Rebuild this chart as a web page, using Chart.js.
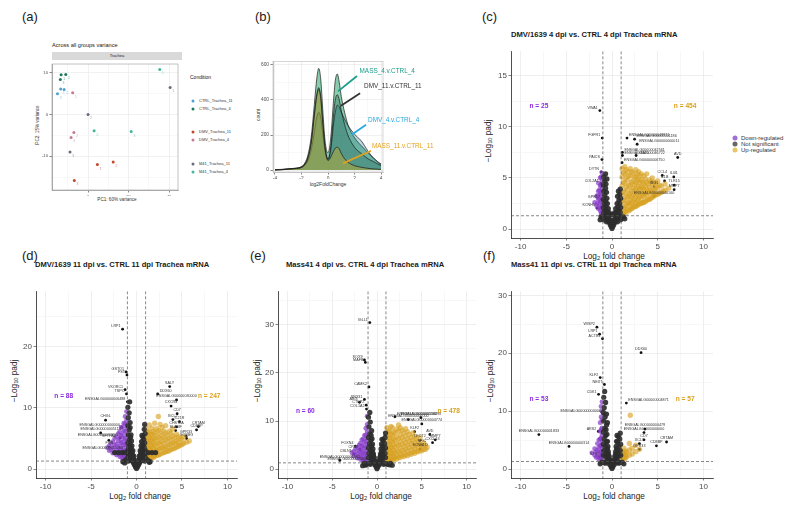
<!DOCTYPE html>
<html><head><meta charset="utf-8">
<script src="https://cdn.jsdelivr.net/npm/chart.js@4.4.1/dist/chart.umd.min.js"></script>
<style>
html,body{margin:0;padding:0;background:#fff;}
body{width:794px;height:507px;position:relative;overflow:hidden;font-family:"Liberation Sans",Arial,sans-serif;color:#1a1a1a;}
canvas{position:absolute;}
.t{position:absolute;white-space:nowrap;line-height:1;}
.c{transform:translate(-50%,-50%);}
.r{transform:translate(-50%,-50%) rotate(-90deg);}
.m{transform:translateY(-50%);}
.pl{font-size:13px;transform:translateY(-50%);}
.ti{font-size:7.6px;font-weight:bold;transform:translateY(-50%);}
.ax{font-size:8.2px;color:#222;}
.dot{position:absolute;border-radius:50%;transform:translate(-50%,-50%);}
sub{font-size:70%;vertical-align:-1px;line-height:0;}
</style></head><body>

<div class="t pl" style="left:22px;top:16px">(a)</div>
<div class="t pl" style="left:255px;top:16px">(b)</div>
<div class="t pl" style="left:482px;top:16px">(c)</div>
<div class="t pl" style="left:22px;top:255px">(d)</div>
<div class="t pl" style="left:250px;top:255px">(e)</div>
<div class="t pl" style="left:483px;top:255px">(f)</div>

<!-- (a) texts -->
<div class="t m" style="left:52px;top:46px;font-size:5.6px">Across all groups variance</div>
<div class="t" style="left:52px;top:52px;width:130px;height:8px;background:#d9d9d9;font-size:4px;text-align:center;line-height:8px">Trachea</div>
<div class="t c" style="left:117px;top:199.5px;font-size:4.6px;color:#333">PC1: 60% variance</div>
<div class="t r" style="left:38px;top:125px;font-size:4.6px;color:#333">PC2: 15% variance</div>
<div class="t m" style="left:190px;top:77px;font-size:5px">Condition</div>
<div id="pcaLegend"></div>

<!-- (b) texts -->
<div class="t c" style="left:328px;top:184px;font-size:5px;color:#333">log2FoldChange</div>
<div class="t r" style="left:258px;top:114.5px;font-size:5px;color:#333">count</div>

<!-- volcano titles -->
<div class="t ti" style="left:511px;top:35px">DMV/1639 4 dpi vs. CTRL 4 dpi Trachea mRNA</div>
<div class="t ti" style="left:35px;top:265px">DMV/1639 11 dpi vs. CTRL 11 dpi Trachea mRNA</div>
<div class="t ti" style="left:286px;top:265px">Mass41 4 dpi vs. CTRL 4 dpi Trachea mRNA</div>
<div class="t ti" style="left:511px;top:265px">Mass41 11 dpi vs. CTRL 11 dpi Trachea mRNA</div>

<div class="t c ax" style="left:614px;top:257px">Log<sub>2</sub> fold change</div>
<div class="t c ax" style="left:140px;top:497px">Log<sub>2</sub> fold change</div>
<div class="t c ax" style="left:381px;top:497px">Log<sub>2</sub> fold change</div>
<div class="t c ax" style="left:614px;top:497px">Log<sub>2</sub> fold change</div>
<div class="t r ax" style="left:489px;top:141px">&minus;Log<sub>10</sub> padj</div>
<div class="t r ax" style="left:15px;top:381px">&minus;Log<sub>10</sub> padj</div>
<div class="t r ax" style="left:258px;top:381px">&minus;Log<sub>10</sub> padj</div>
<div class="t r ax" style="left:491px;top:381px">&minus;Log<sub>10</sub> padj</div>

<!-- volcano legend -->
<div class="dot" style="left:735px;top:137.7px;width:5px;height:5px;background:#a070d6"></div>
<div class="dot" style="left:735px;top:143.7px;width:5px;height:5px;background:#666"></div>
<div class="dot" style="left:735px;top:150px;width:5px;height:5px;background:#e6c66a"></div>
<div class="t m" style="left:741px;top:137.7px;font-size:6px;color:#333">Down-regulated</div>
<div class="t m" style="left:741px;top:143.7px;font-size:6px;color:#333">Not significant</div>
<div class="t m" style="left:741px;top:150px;font-size:6px;color:#333">Up-regulated</div>

<script>
// ---- (a) PCA ----
const pcaGroups = ['CTRL_Trachea_11','CTRL_Trachea_4','DMV_Trachea_11','DMV_Trachea_4','M41_Trachea_11','M41_Trachea_4'];
const pcaColors = ['#4f9fd0','#1d7a5e','#c4462b','#c8789a','#6b6880','#43b59b'];
const pcaPC1 = [[-13.5,-11.8,-15.1],[-13.3,-11.0,-13.7],[4.6,12.4,-6.8],[-7.6,-7.0,-8.4],[40.5,0.0,-8.9],[35.4,3.0,21.3]];
const pcaPC2 = [[6.1,6.0,5.0],[9.5,9.6,8.4],[-12.0,-11.4,-15.8],[5.2,-4.3,-5.5],[6.5,0.0,-9.0],[10.8,-3.9,-4.1]];
const pcaRep = ['1','2','3'];
const pcaXTicks = [0,20,40], pcaXMinor = [-10,10,30];
const pcaYTicks = [-10,0,10], pcaYMinor = [-15,-5,5];

// ---- (b) density of log2FoldChange ----
const densX = [-4,-3.5,-3,-2.5,-2,-1.75,-1.5,-1.25,-1,-0.85,-0.7,-0.55,-0.4,-0.25,-0.1,0,0.1,0.25,0.4,0.55,0.7,0.85,1,1.25,1.5,1.75,2,2.25,2.5,2.75,3,3.25,3.5,3.75,4];
const densMass4 = [2,4,8,10,20,40,90,200,400,520,580,520,350,190,110,100,120,220,380,510,548,500,420,330,260,215,185,160,140,120,100,80,62,45,30];
const densDmv11 = [1,3,6,10,18,35,75,170,340,430,470,420,280,150,80,65,80,160,300,400,430,400,340,260,200,160,130,110,95,80,65,55,45,35,25];
const densDmv4 = [1,2,4,8,15,28,55,120,230,300,330,300,210,120,70,60,75,140,250,330,370,360,330,290,255,228,205,185,168,140,110,85,65,48,35];
const densMass11 = [1,2,5,8,15,30,70,160,330,420,460,410,270,140,70,55,60,80,105,125,130,120,95,65,45,33,25,20,16,13,10,8,6,5,4];
const densNames = ['MASS_4.v.CTRL_4','DMV_11.v.CTRL_11','DMV_4.v.CTRL_4','MASS_11.v.CTRL_11'];
const densColors = ['#1b9e8a','#333333','#29a8e0','#e2a11f'];
const densLabelAt = [[2.38,564],[2.72,477],[3.02,285],[3.32,137]];
const densArrowFrom = [[2.19,537],[2.42,438],[2.87,258],[3.25,110]];
const densArrowTo = [[0.75,449],[0.98,367],[1.81,203],[1.13,38]];
const densXTicks = [-4,-2,0,2,4], densYTicks = [0,200,400,600];

// ---- volcano thresholds ----
const fcCut = 1, padjCut = 1.3;
const volXTicks = [-10,-5,0,5,10], volXMinor = [-7.5,-2.5,2.5,7.5];
const nLabelX = 8, nLabelY = 12;

// (c) DMV 4 dpi
const volCNs = [[0,0.05],[-0.1,0.25],[0.1,0.25],[0,0.45],[-0.2,0.45],[0.2,0.45],[-0.3,0.65],[0.3,0.65],[-0.1,0.7],[0.1,0.7],[-0.45,0.85],[0.45,0.85],[-0.2,0.9],[0.2,0.9],[-0.6,1.05],[0.6,1.05],[-0.35,1.1],[0.35,1.1],[-0.8,1.2],[0.8,1.2],[-1.05,1.15],[1.1,1.15],[-0.5,1.35],[0.5,1.35],[-0.7,1.5],[0.7,1.5],[-0.9,1.6],[0.9,1.6],[-0.55,1.75],[0.55,1.75],[-0.8,1.9],[0.8,1.9],[-0.95,2.1],[0.95,2.1],[-0.65,2.2],[0.65,2.2],[-0.85,2.5],[0.85,2.5],[-0.7,2.7],[0.75,2.8],[-0.95,2.9],[0.95,3.0],[-0.8,3.3],[0.85,3.4],[-0.9,3.7],[-0.7,4.0],[0.9,3.9],[-0.95,4.3],[-0.8,4.7],[-0.9,5.1],[-0.7,5.4],[-1.3,0.9],[1.4,1.0],
  [-0.15,1.4],[0.15,1.45],[-0.3,1.6],[0.3,1.6],[-0.4,2.0],[0.4,2.0],[-0.5,2.5],[0.55,2.5],[-0.55,3.0],[0.6,3.2],[-0.6,3.6],[0.7,3.7],[-0.65,4.4],[-0.55,4.9],[-1.2,1.2],[1.25,1.2],[-0.9,0.9],[0.95,0.9],[-0.6,0.7],[0.6,0.7]];
const volCDown = [[-1.1,1.6,2.3,3.1,3.9,4.7,5.5],[-1.3,1.8,2.6,3.4,4.2,5.0],[-1.5,2.0,2.9,3.7,4.5],[-1.7,2.3,3.2],[-1.9,2.6],[-1.2,1.5,2.0,2.7,3.5,4.3,5.1],[-1.4,2.2,3.0,3.8],[-1.6,2.5,3.3]];
const volCUp = [[1.1,1.6,2.4,3.3,4.2,5.1,5.9],[1.4,1.7,2.1,2.8,3.6,4.5,5.4,6.1],[1.7,1.9,2.5,3.1,3.9,4.8,5.6],[2.0,1.9,2.3,2.9,3.5,4.3,5.2,5.9],[2.3,2.1,2.7,3.3,4.0,4.7,5.5],[2.6,2.2,2.6,3.2,3.8,4.5,5.1,5.8],[2.9,2.4,3.0,3.6,4.2,4.9,5.6],[3.2,2.5,2.9,3.5,4.1,4.8,5.4],[3.5,2.6,3.2,3.8,4.4,5.2],[3.8,2.8,3.3,3.9,4.6,5.4],[4.1,2.9,3.5,4.1,4.8],[4.4,3.1,3.6,4.3,5.0],[4.7,3.3,3.9,4.5],[5.0,3.4,4.0,4.7],[5.4,3.6,4.2],[5.8,3.8,4.4],[6.2,4.0],
  [1.25,1.5,2.0,2.8,3.7,4.6,5.5],[1.55,1.6,2.3,3.2,4.1,5.0,5.8],[1.85,1.8,2.6,3.4,4.3,5.2],[2.15,2.0,2.5,3.1,3.8,4.6,5.6],[2.45,2.2,2.9,3.6,4.3,5.1],[2.75,2.3,2.8,3.4,4.0,4.7,5.4],[3.05,2.5,3.2,3.9,4.5,5.2],[3.35,2.6,3.3,4.0,4.6],[3.65,2.7,3.5,4.2,4.9],[3.95,2.9,3.7,4.4],[4.25,3.0,3.8,4.6],[4.55,3.2,3.8,4.6],[4.85,3.4,4.2],[5.2,3.5,4.3],[5.6,3.7]];
const volCLabs = [[-1.33,11.6,'VWA1'],[-1.07,8.9,'FGFR1'],[1.64,8.9,'ENSGALG00000048871'],[2.47,8.8,'ENSGALG00000001186'],[2.75,8.3,'ENSGALG00000000011'],[1.14,7.5,'ENSGALG00000042561'],[1.14,7.2,'ENSGALG00000046722'],[2.64,7.2,'STAT1'],[-1.1,6.8,'PAICS'],[1.1,6.5,'ENSGALG00000006750'],[7.19,7.0,'AVD'],[-1.2,5.6,'DYTN'],[5.5,5.25,'CCL4'],[6.76,5.1,'IL4I1'],[-1.22,4.46,'COL2A1'],[5.75,4.7,'IL1B'],[6.8,4.3,'TLR15'],[4.6,4.15,'IRG1'],[6.8,3.85,'MMP7'],[4.6,3.2,'ENSGALG00000040160'],[-1.1,2.9,'GPR17'],[-1.65,2.05,'KCNH5']];

// (d) DMV 11 dpi
const volDNs = [[0,0.1],[-0.1,0.35],[0.1,0.35],[0,0.6],[-0.2,0.6],[0.2,0.6],[-0.3,0.9],[0.3,0.9],[-0.1,0.9],[0.1,0.9],[-0.4,1.2],[0.4,1.2],[-0.2,1.2],[0.2,1.2],[-0.6,1.4],[0.6,1.4],[-0.9,1.3],[0.9,1.3],[-0.35,1.6],[0.35,1.6],[-0.5,1.9],[0.5,1.9],[-0.75,1.9],[0.75,1.9],[-0.95,2.0],[0.95,2.0],[-0.4,2.3],[0.4,2.3],[-0.65,2.4],[0.65,2.4],[-0.9,2.5],[0.9,2.5],[-0.5,2.8],[0.5,2.8],[-0.75,2.9],[0.75,2.9],[-0.95,3.1],[0.95,3.1],[-0.6,3.4],[0.6,3.4],[-0.85,3.6],[0.85,3.6],[-0.7,4.0],[0.7,4.0],[-0.95,4.3],[0.9,4.3],[-0.8,4.8],[0.8,4.8],[-0.65,5.2],[0.7,5.3],[-0.9,5.6],[0.95,5.8],[-0.8,6.4],[0.85,6.5],[-0.95,7.1],[-0.7,7.6],[-0.9,8.4],[-0.8,9.2],[-0.95,10.1],[-0.75,11.0],[0.9,7.3],[-1.3,1.0],[1.4,1.1],
  [-1.2,1.5],[1.2,1.5],[-1.5,1.2],[1.5,1.2],[-1.6,2.7],[-1.3,2.7],[1.3,2.7],[1.7,2.7],[2.1,2.7],[-2.0,2.7],[-2.4,2.7],[-0.25,1.5],[0.25,1.5],[-0.3,2.1],[0.3,2.1],[-0.4,3.0],[0.4,3.0],[-0.5,3.8],[0.5,3.8],[-0.55,4.6],[0.55,4.5],[-0.6,5.6],[0.6,5.5],[-0.7,6.8]];
const volDDown = [[-1.1,1.7,2.6,3.5,4.5,5.6,6.8,8.0,9.4],[-1.4,1.9,2.9,3.9,5.0,6.2,7.5],[-1.7,2.2,3.2,4.3,5.5,6.8],[-2.0,2.5,3.5,4.6,5.8],[-2.4,2.8,3.9,5.0],[-2.8,3.2,4.2],[-3.2,3.5],
  [-1.25,1.5,2.2,3.0,4.0,5.0,6.2,7.4,8.6],[-1.55,1.7,2.4,3.4,4.4,5.6,6.9],[-1.85,2.0,2.8,3.8,5.0,6.1],[-2.2,2.3,3.2,4.1,5.3],[-2.6,2.6,3.5,4.5],[-3.0,3.0,3.8]];
const volDUp = [[1.1,1.6,2.3,3.0,3.8,4.6,5.5,6.5],[1.4,1.8,2.6,3.4,4.3,5.2,6.1,7.2],[1.7,2.0,2.8,3.7,4.6,5.6,6.7],[2.0,2.1,2.9,3.9,4.9,5.9,7.5],[2.4,2.3,3.2,4.2,5.2,6.3,8.6],[2.8,2.6,3.5,4.5,5.5,6.8],[3.2,2.8,3.7,4.8,5.9,7.1],[3.6,3.0,4.0,5.1,6.2],[4.0,3.3,4.3,5.4,6.6],[4.4,3.6,4.6,5.7],[4.8,3.9,5.0],[5.2,4.2,5.3],[5.8,4.6],
  [1.25,1.5,2.0,2.7,3.4,4.2,5.0,6.0],[1.55,1.7,2.4,3.1,3.9,4.8,5.7],[1.85,1.9,2.5,3.3,4.2,5.1,6.2],[2.2,2.2,3.0,3.6,4.5,5.5,6.6],[2.6,2.4,3.3,4.0,4.9,6.0,7.3],[3.0,2.7,3.4,4.2,5.2,6.2],[3.4,2.9,3.6,4.5,5.5],[3.8,3.2,4.0,4.8,5.9],[4.2,3.4,4.2,5.1],[4.6,3.7,4.4,5.3],[5.0,4.0,4.8],[5.5,4.4]];
const volDLabs = [[-1.53,22.9,'LRP1'],[-1.15,15.9,'GSTO1'],[-1.05,15.4,'FST'],[-1.25,13.0,'VKORC1'],[-1.1,12.3,'TSPO'],[-1.0,11.0,'ENSGALG00000006488'],[2.33,12.3,'DDX60'],[3.65,13.5,'SALY'],[4.4,11.3,'ENSGALG00000030000'],[3.8,10.3,'CXCR4'],[4.47,9.05,'CD7'],[4.0,8.1,'BCL2'],[4.72,7.75,'IL21R'],[6.8,6.95,'CRTAM'],[6.6,6.4,'CD8BP'],[4.4,6.9,'CHST2A'],[4.3,6.3,'SLAMF'],[5.44,5.37,'GPR33'],[5.5,5.0,'SOME3'],[-3.4,8.0,'CHGL'],[-1.6,6.8,'ENSGALG00000000000'],[-3.94,5.9,'ENSGALG00000005114'],[-1.8,5.1,'ENSGALG00000033301'],[-3.04,4.7,'SFTPA2'],[-3.0,3.6,'FGB'],[-1.3,2.9,'ENSGALG00000011034']];

// (e) Mass41 4 dpi
const volENs = [[0,0.1],[-0.1,0.5],[0.1,0.5],[0,0.9],[-0.25,0.9],[0.25,0.9],[-0.15,1.3],[0.15,1.3],[-0.4,1.3],[0.4,1.3],[-0.6,1.5],[0.6,1.5],[-0.9,1.2],[0.9,1.2],[-1.2,1.0],[1.2,1.0],[-0.3,1.8],[0.3,1.8],[-0.5,2.2],[0.5,2.2],[-0.75,2.3],[0.75,2.3],[-0.95,2.4],[0.95,2.4],[-0.4,2.8],[0.4,2.8],[-0.65,3.0],[0.65,3.0],[-0.9,3.3],[0.9,3.3],[-0.5,3.6],[0.5,3.6],[-0.75,4.0],[0.75,4.0],[-0.95,4.4],[0.95,4.4],[-0.6,4.8],[0.6,4.8],[-0.85,5.3],[0.85,5.3],[-0.7,6.0],[0.7,6.0],[-0.95,6.6],[0.9,6.6],[-0.8,7.3],[-0.6,8.0],[-0.9,8.8],[-0.75,9.8],[-0.95,10.8],[-0.8,11.8],[0.95,7.5],[-1.3,0.8],[1.4,0.9],[-1.6,0.7],[1.7,0.8],
  [-0.2,1.6],[0.2,1.6],[-0.3,2.4],[0.3,2.4],[-0.4,3.2],[0.4,3.2],[-0.45,4.2],[0.45,4.2],[-0.5,5.2],[0.5,5.2],[-0.55,6.3],[0.55,6.2],[-0.65,7.0],[-1.1,1.1],[1.1,1.1],[-1.45,1.2],[1.5,1.2],[-0.75,1.0],[0.75,1.0]];
const volEDown = [[-1.1,1.8,2.8,3.9,5.1,6.4,7.8,9.3,11.0],[-1.4,2.0,3.1,4.3,5.6,7.0],[-1.7,2.3,3.4,4.7,6.1],[-2.0,2.6,3.8,5.0],[-2.4,3.0,4.2],[-2.8,3.4],
  [-1.25,1.5,2.3,3.3,4.5,5.8,7.1,8.5],[-1.55,1.7,2.6,3.7,4.9,6.3],[-1.85,2.0,3.0,4.1,5.4],[-2.2,2.3,3.3,4.5],[-2.6,2.7,3.7]];
const volEUp = [[1.1,1.7,2.6,3.6,4.7,5.9,7.2,8.6],[1.4,1.9,2.9,4.0,5.2,6.5,7.9],[1.7,2.1,3.2,4.4,5.7,7.0,8.6],[2.0,2.3,3.4,4.6,6.0,7.5],[2.4,2.5,3.6,4.9,6.3,7.9,9.2],[2.8,2.8,3.9,5.2,6.6,8.1],[3.2,3.0,4.2,5.5,6.9,8.4],[3.6,3.2,4.5,5.8,7.2],[4.0,3.5,4.7,6.0,7.5],[4.4,3.7,5.0,6.3],[4.8,4.0,5.2,6.6],[5.2,4.2,5.5],[5.6,4.5],
  [1.25,1.5,2.1,3.1,4.1,5.3,6.5,7.9],[1.55,1.7,2.4,3.4,4.6,5.8,7.2,8.9],[1.85,1.9,2.7,3.8,5.0,6.3,7.7],[2.2,2.1,2.9,4.0,5.3,6.7,8.3],[2.6,2.4,3.2,4.4,5.7,7.1,8.6],[3.0,2.6,3.5,4.7,6.0,7.5],[3.4,2.8,3.8,5.0,6.3,7.8],[3.8,3.1,4.0,5.3,6.6],[4.2,3.3,4.3,5.5,6.8],[4.6,3.6,4.5,5.8],[5.0,3.8,4.8],[5.4,4.1,5.0]];
const volELabs = [[-0.8,30.5,'IGLL1'],[-1.4,22.7,'SOX9'],[-1.3,22.2,'MAFB'],[-0.9,17.1,'CAMK2'],[-1.4,14.5,'SNX31'],[-1.95,13.9,'ABI3'],[-1.2,13.3,'CTBP2'],[-1.17,12.5,'COL1A2'],[2.0,10.9,'ENSGALG00000001186'],[4.9,10.7,'ENSGALG00000030299'],[3.5,10.3,'ENSGALG00000000000'],[5.0,9.4,'ENSGALG00000004774'],[4.2,7.8,'KLF2'],[5.9,7.2,'AVD'],[6.5,6.1,'MMP7'],[6.2,5.5,'CXCL13'],[4.8,6.0,'LECT2'],[5.0,5.0,'SPIC'],[4.8,4.2,'SCNN1D'],[-2.4,4.8,'FOXN4'],[-1.9,4.1,'CPA4'],[-2.6,3.15,'CBLN1'],[-4.15,1.8,'ENSGALG00000001361'],[-0.8,1.5,'ENSGALG00000000000']];

// (f) Mass41 11 dpi
const volFNs = [[0,0.1],[-0.1,0.4],[0.1,0.4],[0,0.8],[-0.25,0.8],[0.25,0.8],[-0.15,1.2],[0.15,1.2],[-0.4,1.2],[0.4,1.2],[-0.6,1.4],[0.6,1.4],[-0.9,1.1],[0.9,1.1],[-1.3,0.9],[1.3,0.9],[-0.3,1.7],[0.3,1.7],[-0.5,2.0],[0.5,2.0],[-0.75,2.2],[0.75,2.2],[-0.95,2.4],[0.95,2.4],[-0.4,2.6],[0.4,2.6],[-0.65,2.9],[0.65,2.9],[-0.9,3.2],[0.9,3.2],[-0.5,3.5],[0.5,3.5],[-0.75,3.9],[0.75,3.9],[-0.95,4.3],[0.95,4.3],[-0.6,4.7],[0.6,4.7],[-0.85,5.2],[0.85,5.2],[-0.7,5.8],[0.7,5.6],[-0.95,6.4],[-0.8,7.0],[-0.6,7.6],[-0.9,8.3],[-0.75,9.0],[-0.95,9.8],[-0.85,10.6],[-0.7,11.5],[-0.9,12.4],[-0.8,13.4],[0.9,6.2],
  [-0.2,1.5],[0.2,1.5],[-0.3,2.2],[0.3,2.2],[-0.4,3.0],[0.4,3.0],[-0.45,3.9],[0.45,3.9],[-0.5,4.8],[0.5,4.8],[-0.55,6.0],[0.55,5.8],[-0.65,6.8],[-0.5,8.0],[-0.6,9.5],[-1.1,1.2],[1.1,1.2],[-0.7,1.0],[0.7,1.0]];
const volFDown = [[-1.1,1.6,2.5,3.5,4.6,5.8,7.1,8.5,10.0,11.6],[-1.3,1.9,2.9,4.0,5.2,6.5,8.0],[-1.6,2.2,3.2,4.4],[-1.9,2.4,3.5],[-2.2,2.8],
  [-1.2,2.0,3.0,4.1,5.3,6.8,9.0,10.8],[-1.45,1.7,2.6,3.7,5.0],[-1.75,2.0,3.0]];
const volFUp = [[1.1,1.6,2.3,3.1],[1.3,1.9,2.7,3.6],[1.6,2.1,2.9],[1.9,2.4,3.3,4.4],[2.2,2.6,3.6],[2.6,3.0,4.1],[3.0,3.4],[2.0,9.3],[1.2,2.0,2.6],[1.45,1.8,2.4,3.1]];
const volFLabs = [[-1.65,24.5,'WISP2'],[-1.36,23.3,'LRP1'],[-1.04,22.5,'ACTB1'],[3.18,20.1,'DDX60'],[-1.29,15.8,'KLF2'],[-0.83,14.6,'NEXT'],[-1.47,12.9,'CDK1'],[1.57,11.4,'ENSGALG00000004871'],[-1.0,9.5,'ENSGALG00000000006'],[3.6,6.9,'ENSGALG00000000479'],[3.5,6.3,'ENSGALG00000000000'],[3.5,5.05,'CD7'],[5.97,4.67,'CRTAM'],[4.86,4.0,'CD8BP'],[3.0,4.4,'XCL1'],[3.0,3.4,'GPR33'],[-8.0,5.95,'ENSGALG00000001833'],[-4.7,3.9,'ENSGALG00000000314'],[-1.5,6.5,'ARS2'],[-1.4,2.1,'STS']];

Chart.defaults.font.family = '"Liberation Sans", Arial, sans-serif';
Chart.defaults.animation = false;

function pairs(a) { return a.map(p => ({x: p[0], y: p[1]})); }
function cols(a) {
    const out = [];
    a.forEach(c => c.slice(1).forEach(y => out.push({x: c[0], y: y})));
    return out;
}
function mkCanvas(left, top, w, h) {
    const cv = document.createElement('canvas');
    cv.width = w; cv.height = h;
    cv.style.left = left + 'px'; cv.style.top = top + 'px';
    cv.style.width = w + 'px'; cv.style.height = h + 'px';
    document.body.appendChild(cv);
    return cv;
}
// axis with explicit major ticks, minor grid lines and fixed size
function axis(min, max, major, minor, size, isX, fs, gridMaj, gridMin, borderCol) {
    return {
        type: 'linear', min: min, max: max,
        afterBuildTicks: s => {
            const t = major.map(v => ({value: v, maj: true}))
                .concat(minor.filter(v => v > min && v < max).map(v => ({value: v, maj: false})));
            t.sort((a, b) => a.value - b.value);
            s.ticks = t;
        },
        afterFit: s => { if (isX) s.height = size; else s.width = size; },
        ticks: {
            autoSkip: false, maxRotation: 0, color: '#4d4d4d', padding: 1.5,
            font: {size: fs},
            callback: (v, i, t) => t[i].maj ? String(v) : ''
        },
        grid: {
            color: c => (c.tick && c.tick.maj) ? gridMaj : gridMin,
            lineWidth: 0.6, tickLength: 2.5, drawTicks: true,
            tickColor: c => (c.tick && c.tick.maj) ? '#333' : 'rgba(0,0,0,0)'
        },
        border: {display: true, color: borderCol, width: 0.8}
    };
}
const boxPlugin = col => ({
    id: 'box',
    afterDraw(ch) {
        const a = ch.chartArea, c = ch.ctx;
        c.save(); c.strokeStyle = col; c.lineWidth = 0.6;
        c.strokeRect(a.left, a.top, a.right - a.left, a.bottom - a.top);
        c.restore();
    }
});

// ---- (a) ----
(function () {
    const cv = mkCanvas(38, 60, 144, 136);
    const ds = pcaGroups.map((g, i) => ({
        label: g,
        data: pcaPC1[i].map((x, j) => ({x: x, y: pcaPC2[i][j]})),
        backgroundColor: pcaColors[i], pointRadius: 1.5, borderWidth: 0
    }));
    new Chart(cv, {
        type: 'scatter', data: {datasets: ds},
        options: {
            responsive: false, events: [],
            plugins: {legend: {display: false}, tooltip: {enabled: false}},
            scales: {
                x: axis(-17.8, 44.4, pcaXTicks, pcaXMinor, 6, true, 4.2, '#e8e8e8', '#f4f4f4', '#999'),
                y: axis(-18.1, 12.1, pcaYTicks, pcaYMinor, 14, false, 4.2, '#e8e8e8', '#f4f4f4', '#999')
            }
        },
        plugins: [boxPlugin('#999'), {
            id: 'reps',
            afterDatasetsDraw(ch) {
                const c = ch.ctx;
                c.save(); c.font = '4px "Liberation Sans"'; c.globalAlpha = 0.55;
                ch.data.datasets.forEach((d, i) => {
                    ch.getDatasetMeta(i).data.forEach((p, j) => {
                        c.fillStyle = pcaColors[i];
                        c.fillText(pcaRep[j], p.x + 2, p.y + 5);
                    });
                });
                c.restore();
            }
        }]
    });
    // legend
    const legY = [101, 109, 132, 140, 164, 172];
    let html = '';
    pcaGroups.forEach((g, i) => {
        html += `<div class="dot" style="left:193px;top:${legY[i]}px;width:3px;height:3px;background:${pcaColors[i]}"></div>`;
        html += `<div class="t m" style="left:199px;top:${legY[i]}px;font-size:4px;color:#333">${g}</div>`;
    });
    document.getElementById('pcaLegend').innerHTML = html;
})();

// ---- (b) ----
(function () {
    const cv = mkCanvas(255, 57, 180, 122);
    const series = [densMass4, densDmv11, densDmv4, densMass11];
    const fills = ['rgba(60,170,120,0.6)', 'rgba(20,80,60,0.28)', 'rgba(30,120,140,0.3)', 'rgba(200,170,40,0.45)'];
    const order = [3, 1, 2, 0];
    const ds = series.map((s, i) => ({
        label: densNames[i],
        data: densX.map((x, j) => ({x: x, y: s[j]})),
        borderColor: '#1a1a1a', borderWidth: 0.7, backgroundColor: fills[i],
        fill: 'origin', pointRadius: 0, cubicInterpolationMode: 'monotone', order: order[i]
    }));
    new Chart(cv, {
        type: 'line', data: {datasets: ds},
        options: {
            responsive: false, events: [],
            layout: {padding: {right: 52}},
            plugins: {legend: {display: false}, tooltip: {enabled: false}},
            scales: {
                x: axis(-4.15, 4.15, densXTicks, [-3, -1, 1, 3], 7, true, 4.8, '#e6e6e6', '#f3f3f3', '#bbb'),
                y: axis(-11, 620, densYTicks, [100, 300, 500], 18, false, 4.8, '#e6e6e6', '#f3f3f3', '#bbb')
            }
        },
        plugins: [boxPlugin('#bbb'), {
            id: 'ann',
            afterDraw(ch) {
                const c = ch.ctx, xs = ch.scales.x, ys = ch.scales.y;
                c.save();
                densNames.forEach((n, i) => {
                    c.strokeStyle = densColors[i]; c.lineWidth = 1.8;
                    c.beginPath();
                    c.moveTo(xs.getPixelForValue(densArrowFrom[i][0]), ys.getPixelForValue(densArrowFrom[i][1]));
                    c.lineTo(xs.getPixelForValue(densArrowTo[i][0]), ys.getPixelForValue(densArrowTo[i][1]));
                    c.stroke();
                    c.fillStyle = densColors[i];
                    c.font = '6.4px "Liberation Sans"'; c.textBaseline = 'middle';
                    c.fillText(n, xs.getPixelForValue(densLabelAt[i][0]), ys.getPixelForValue(densLabelAt[i][1]));
                });
                c.restore();
            }
        }]
    });
})();

// ---- volcano panels ----
function volcano(o) {
    const L = o.area[0] - 22, T = o.area[1];
    const W = o.area[2] - L, H = o.area[3] - T + 14;
    const cv = mkCanvas(L, T, W, H);
    new Chart(cv, {
        type: 'scatter',
        data: {datasets: [
            {data: pairs(o.ns), backgroundColor: 'rgba(45,45,45,0.92)', pointRadius: 2.6, borderWidth: 0},
            {data: cols(o.down), backgroundColor: 'rgba(135,60,200,0.72)', pointRadius: 2.4, borderWidth: 0},
            {data: cols(o.up), backgroundColor: 'rgba(215,160,30,0.62)', pointRadius: 2.7, borderWidth: 0},
            {data: o.labs.map(l => ({x: l[0], y: l[1]})), backgroundColor: '#111', pointRadius: 1.4, borderWidth: 0}
        ]},
        options: {
            responsive: false, events: [],
            plugins: {legend: {display: false}, tooltip: {enabled: false}},
            scales: {
                x: axis(-11.05, 11.05, volXTicks, volXMinor, 14, true, 8, '#e3e3e3', '#f1f1f1', '#222'),
                y: axis(o.yr[0], o.yr[1], o.yTicks, o.yMinor, 22, false, 8, '#e3e3e3', '#f1f1f1', '#222')
            }
        },
        plugins: [{
            id: 'vx',
            afterDatasetsDraw(ch) {
                const c = ch.ctx, a = ch.chartArea, xs = ch.scales.x, ys = ch.scales.y;
                c.save();
                c.beginPath(); c.rect(a.left, a.top, a.right - a.left, a.bottom - a.top); c.clip();
                c.strokeStyle = '#555'; c.lineWidth = 0.7; c.setLineDash([3, 2]);
                [-fcCut, fcCut].forEach(v => {
                    const px = xs.getPixelForValue(v);
                    c.beginPath(); c.moveTo(px, a.top); c.lineTo(px, a.bottom); c.stroke();
                });
                const py = ys.getPixelForValue(padjCut);
                c.beginPath(); c.moveTo(a.left, py); c.lineTo(a.right, py); c.stroke();
                c.setLineDash([]);
                c.font = '3.7px "Liberation Sans"'; c.fillStyle = '#333'; c.textBaseline = 'bottom';
                o.labs.forEach(l => {
                    const px = xs.getPixelForValue(l[0]), ly = ys.getPixelForValue(l[1]);
                    if (Math.abs(l[0]) >= 3) { c.textAlign = 'center'; c.fillText(l[2], px, ly - 2); }
                    else if (l[0] < 0) { c.textAlign = 'right'; c.fillText(l[2], px - 2, ly - 1); }
                    else { c.textAlign = 'left'; c.fillText(l[2], px + 2, ly - 1); }
                });
                c.font = 'bold 6.6px "Liberation Sans"'; c.textAlign = 'center'; c.textBaseline = 'middle';
                c.fillStyle = '#8a2be2';
                c.fillText('n = ' + o.nDown, xs.getPixelForValue(-nLabelX), ys.getPixelForValue(nLabelY));
                c.fillStyle = '#d9a21c';
                c.fillText('n = ' + o.nUp, xs.getPixelForValue(nLabelX), ys.getPixelForValue(nLabelY));
                c.restore();
            }
        }]
    });
}

volcano({area: [511, 45, 717, 238], yr: [-0.88, 17.4], yTicks: [0, 5, 10, 15], yMinor: [2.5, 7.5, 12.5, 17.5],
    ns: volCNs, down: volCDown, up: volCUp, labs: volCLabs, nDown: 25, nUp: 454});
volcano({area: [36, 285, 241, 478], yr: [-1.47, 29.1], yTicks: [0, 10, 20], yMinor: [5, 15, 25],
    ns: volDNs, down: volDDown, up: volDUp, labs: volDLabs, nDown: 88, nUp: 247});
volcano({area: [278, 285, 480, 478], yr: [-1.85, 37.0], yTicks: [0, 10, 20, 30], yMinor: [5, 15, 25, 35],
    ns: volENs, down: volEDown, up: volEUp, labs: volELabs, nDown: 60, nUp: 478});
volcano({area: [511, 285, 717, 478], yr: [-1.55, 30.7], yTicks: [0, 10, 20, 30], yMinor: [5, 15, 25],
    ns: volFNs, down: volFDown, up: volFUp, labs: volFLabs, nDown: 53, nUp: 57});
</script>
</body></html>
